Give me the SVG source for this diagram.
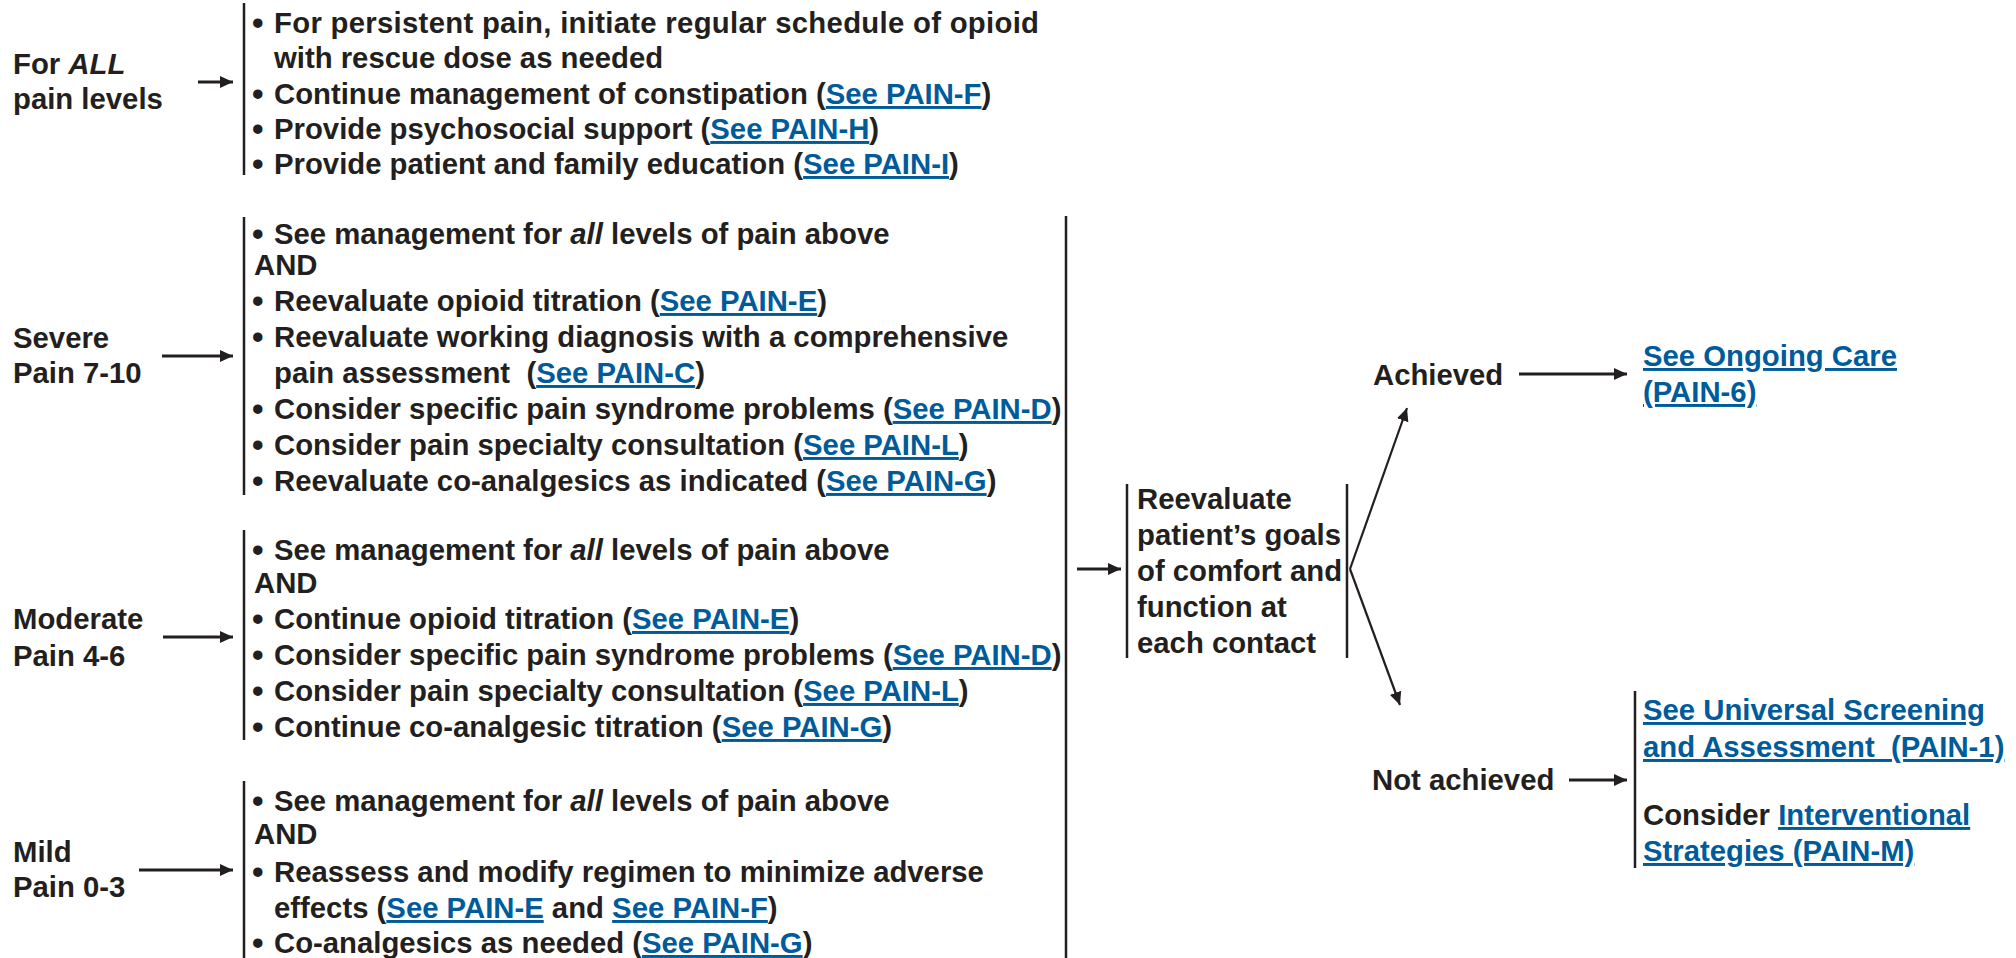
<svg xmlns="http://www.w3.org/2000/svg" width="2016" height="958" viewBox="0 0 2016 958">
  <style>
    .t { font-family: "Liberation Sans", Arial, Helvetica, sans-serif; font-weight: bold; font-size: 29.3px; fill: #231f20; }
    .lk { fill: #005b9a; text-decoration: underline; }
    .it { font-style: italic; }
    .bu { font-size: 33px; }
    .br { stroke: #231f20; stroke-width: 2.5; fill: none; }
    .ar { stroke: #231f20; stroke-width: 3; fill: none; marker-end: url(#ah); }
    .dg { stroke: #231f20; stroke-width: 2.2; fill: none; marker-end: url(#ah); }
  </style>
  <defs>
    <marker id="ah" markerUnits="userSpaceOnUse" markerWidth="13" markerHeight="12" refX="13" refY="6" orient="auto">
      <path d="M0,0 L13,6 L0,12 z" fill="#231f20"/>
    </marker>
  </defs>
  <rect width="2016" height="958" fill="#ffffff"/>

  <!-- All pain levels -->
  <g id="node-all">
    <text class="t" x="13" y="74">For <tspan class="it">ALL</tspan></text>
    <text class="t" x="13" y="109">pain levels</text>
    <line class="br" x1="244" y1="3" x2="244" y2="175"/>
    <text class="t bu" x="252" y="34">•</text>
    <text class="t" x="274" y="33" textLength="765" lengthAdjust="spacing">For persistent pain, initiate regular schedule of opioid</text>
    <text class="t" x="274" y="68">with rescue dose as needed</text>
    <text class="t bu" x="252" y="105">•</text>
    <text class="t" x="274" y="104">Continue management of constipation (<tspan class="lk">See PAIN-F</tspan>)</text>
    <text class="t bu" x="252" y="140">•</text>
    <text class="t" x="274" y="139">Provide psychosocial support (<tspan class="lk">See PAIN-H</tspan>)</text>
    <text class="t bu" x="252" y="175">•</text>
    <text class="t" x="274" y="174">Provide patient and family education (<tspan class="lk">See PAIN-I</tspan>)</text>
  </g>

  <!-- Severe pain -->
  <g id="node-severe">
    <text class="t" x="13" y="348">Severe</text>
    <text class="t" x="13" y="383">Pain 7-10</text>
    <line class="br" x1="244" y1="217" x2="244" y2="495"/>
    <text class="t bu" x="252" y="245">•</text>
    <text class="t" x="274" y="244">See management for <tspan class="it">all</tspan> levels of pain above</text>
    <text class="t" x="254" y="275">AND</text>
    <text class="t bu" x="252" y="312">•</text>
    <text class="t" x="274" y="311">Reevaluate opioid titration (<tspan class="lk">See PAIN-E</tspan>)</text>
    <text class="t bu" x="252" y="348">•</text>
    <text class="t" x="274" y="347">Reevaluate working diagnosis with a comprehensive</text>
    <text class="t" x="274" y="383" xml:space="preserve">pain assessment  (<tspan class="lk">See PAIN-C</tspan>)</text>
    <text class="t bu" x="252" y="420">•</text>
    <text class="t" x="274" y="419">Consider specific pain syndrome problems (<tspan class="lk">See PAIN-D</tspan>)</text>
    <text class="t bu" x="252" y="456">•</text>
    <text class="t" x="274" y="455">Consider pain specialty consultation (<tspan class="lk">See PAIN-L</tspan>)</text>
    <text class="t bu" x="252" y="492">•</text>
    <text class="t" x="274" y="491">Reevaluate co-analgesics as indicated (<tspan class="lk">See PAIN-G</tspan>)</text>
  </g>

  <!-- Moderate pain -->
  <g id="node-moderate">
    <text class="t" x="13" y="629">Moderate</text>
    <text class="t" x="13" y="666">Pain 4-6</text>
    <line class="br" x1="244" y1="530" x2="244" y2="740"/>
    <text class="t bu" x="252" y="561">•</text>
    <text class="t" x="274" y="560">See management for <tspan class="it">all</tspan> levels of pain above</text>
    <text class="t" x="254" y="593">AND</text>
    <text class="t bu" x="252" y="630">•</text>
    <text class="t" x="274" y="629">Continue opioid titration (<tspan class="lk">See PAIN-E</tspan>)</text>
    <text class="t bu" x="252" y="666">•</text>
    <text class="t" x="274" y="665">Consider specific pain syndrome problems (<tspan class="lk">See PAIN-D</tspan>)</text>
    <text class="t bu" x="252" y="702">•</text>
    <text class="t" x="274" y="701">Consider pain specialty consultation (<tspan class="lk">See PAIN-L</tspan>)</text>
    <text class="t bu" x="252" y="738">•</text>
    <text class="t" x="274" y="737">Continue co-analgesic titration (<tspan class="lk">See PAIN-G</tspan>)</text>
  </g>

  <!-- Mild pain -->
  <g id="node-mild">
    <text class="t" x="13" y="862">Mild</text>
    <text class="t" x="13" y="897">Pain 0-3</text>
    <line class="br" x1="244" y1="781" x2="244" y2="958"/>
    <text class="t bu" x="252" y="812">•</text>
    <text class="t" x="274" y="811">See management for <tspan class="it">all</tspan> levels of pain above</text>
    <text class="t" x="254" y="844">AND</text>
    <text class="t bu" x="252" y="883">•</text>
    <text class="t" x="274" y="882">Reassess and modify regimen to minimize adverse</text>
    <text class="t" x="274" y="918">effects (<tspan class="lk">See PAIN-E</tspan> and <tspan class="lk">See PAIN-F</tspan>)</text>
    <text class="t bu" x="252" y="954">•</text>
    <text class="t" x="274" y="953">Co-analgesics as needed (<tspan class="lk">See PAIN-G</tspan>)</text>
  </g>

  <!-- Reevaluation step -->
  <g id="node-reevaluate">
    <line class="br" x1="1127" y1="484" x2="1127" y2="658"/>
    <line class="br" x1="1347" y1="484" x2="1347" y2="658"/>
    <text class="t" x="1137" y="509">Reevaluate</text>
    <text class="t" x="1137" y="545">patient’s goals</text>
    <text class="t" x="1137" y="581">of comfort and</text>
    <text class="t" x="1137" y="617">function at</text>
    <text class="t" x="1137" y="653">each contact</text>
  </g>

  <g id="node-achieved">
    <text class="t" x="1373" y="385">Achieved</text>
  </g>

  <g id="node-ongoing">
    <text class="t lk" x="1643" y="366">See Ongoing Care</text>
    <text class="t lk" x="1643" y="402">(PAIN-6)</text>
  </g>

  <g id="node-not-achieved">
    <text class="t" x="1372" y="790">Not achieved</text>
  </g>

  <g id="node-next-steps">
    <line class="br" x1="1635" y1="691" x2="1635" y2="868"/>
    <text class="t lk" x="1643" y="720">See Universal Screening</text>
    <text class="t lk" x="1643" y="757" xml:space="preserve">and Assessment  (PAIN-1)</text>
    <text class="t" x="1643" y="825">Consider <tspan class="lk">Interventional</tspan></text>
    <text class="t lk" x="1643" y="861">Strategies (PAIN-M)</text>
  </g>

  <!-- Connectors -->
  <g id="connectors">
    <line class="ar" x1="198" y1="82" x2="233" y2="82"/>
    <line class="ar" x1="162" y1="356" x2="233" y2="356"/>
    <line class="ar" x1="163" y1="637" x2="233" y2="637"/>
    <line class="ar" x1="139" y1="870" x2="233" y2="870"/>
    <line class="br" x1="1066" y1="216" x2="1066" y2="958"/>
    <line class="ar" x1="1077" y1="569" x2="1121" y2="569"/>
    <line class="dg" x1="1350" y1="569" x2="1407" y2="408"/>
    <line class="dg" x1="1350" y1="569" x2="1400" y2="705"/>
    <line class="ar" x1="1519" y1="374" x2="1627" y2="374"/>
    <line class="ar" x1="1569" y1="780" x2="1627" y2="780"/>
  </g>
</svg>
